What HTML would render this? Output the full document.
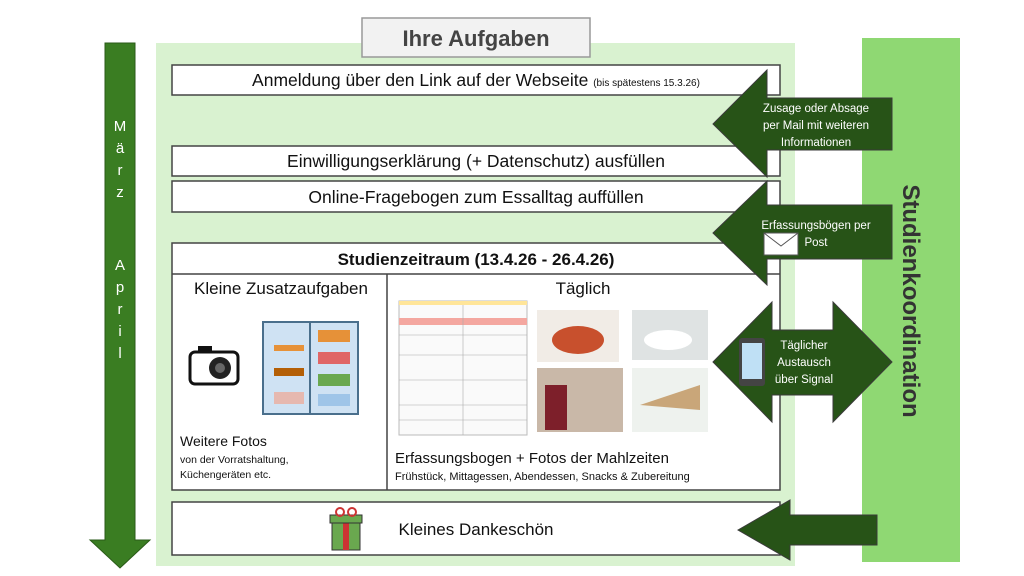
<!DOCTYPE html>
<html><head><meta charset="utf-8"><style>
html,body{margin:0;padding:0;background:#fff;}
svg{display:block;font-family:"Liberation Sans",sans-serif;}
</style></head><body>
<svg width="1024" height="576" viewBox="0 0 1024 576" xmlns="http://www.w3.org/2000/svg">
<rect x="156" y="43" width="639" height="523" fill="#d9f2d0"/>
<rect x="862" y="38" width="98" height="524" fill="#8fd873"/>
<text transform="translate(911,301) rotate(90)" text-anchor="middle" font-size="24" font-weight="bold" fill="#333" dy="8">Studienkoordination</text>
<path d="M105 43 H135 V540 H150 L120 568 L90 540 H105 Z" fill="#3a7d22" stroke="#2a5a18" stroke-width="1"/>
<g fill="#fff" font-size="15" text-anchor="middle">
<text x="120" y="131">M</text><text x="120" y="153">ä</text><text x="120" y="175">r</text><text x="120" y="197">z</text>
<text x="120" y="270">A</text><text x="120" y="292">p</text><text x="120" y="314">r</text><text x="120" y="336">i</text><text x="120" y="358">l</text>
</g>
<rect x="362" y="18" width="228" height="39" fill="#f2f2f2" stroke="#999" stroke-width="1.5"/>
<text x="476" y="46" text-anchor="middle" font-size="22" font-weight="bold" fill="#444">Ihre Aufgaben</text>
<g fill="#fff" stroke="#444" stroke-width="1.5">
<rect x="172" y="65" width="608" height="30"/>
<rect x="172" y="146" width="608" height="30"/>
<rect x="172" y="181" width="608" height="31"/>
<rect x="172" y="243" width="608" height="247"/>
<rect x="172" y="502" width="608" height="53"/>
</g>
<line x1="172" y1="274" x2="780" y2="274" stroke="#444" stroke-width="1.5"/>
<line x1="387" y1="274" x2="387" y2="490" stroke="#444" stroke-width="1.5"/>
<g fill="#111" text-anchor="middle" font-size="17">
<text x="476" y="86" font-size="17.5">Anmeldung über den Link auf der Webseite <tspan font-size="10">(bis spätestens 15.3.26)</tspan></text>
<text x="476" y="167" font-size="17.5">Einwilligungserklärung (+ Datenschutz) ausfüllen</text>
<text x="476" y="203" font-size="17.5">Online-Fragebogen zum Essalltag auffüllen</text>
<text x="476" y="265" font-weight="bold">Studienzeitraum (13.4.26 - 26.4.26)</text>
<text x="281" y="294">Kleine Zusatzaufgaben</text>
<text x="583" y="294">Täglich</text>
<text x="476" y="535">Kleines Dankeschön</text>
</g>
<g fill="#111" font-size="14">
<text x="180" y="446">Weitere Fotos</text>
<text x="180" y="463" font-size="10.5">von der Vorratshaltung,</text>
<text x="180" y="478" font-size="10.5">Küchengeräten etc.</text>
<text x="395" y="463" font-size="15">Erfassungsbogen + Fotos der Mahlzeiten</text>
<text x="395" y="480" font-size="11">Frühstück, Mittagessen, Abendessen, Snacks &amp; Zubereitung</text>
</g>
<rect x="190" y="352" width="48" height="32" rx="5" fill="#fff" stroke="#111" stroke-width="3"/>
<rect x="198" y="346" width="14" height="7" fill="#111"/>
<circle cx="220" cy="368" r="11" fill="#222"/><circle cx="220" cy="368" r="5" fill="#666"/>
<rect x="263" y="322" width="95" height="92" fill="#cfe2f3" stroke="#4a6f8c" stroke-width="2"/>
<line x1="310" y1="322" x2="310" y2="414" stroke="#4a6f8c" stroke-width="2"/>
<g fill="#e69138"><rect x="274" y="345" width="30" height="6"/><rect x="318" y="330" width="32" height="12"/><rect x="318" y="352" width="32" height="12" fill="#e06666"/><rect x="318" y="374" width="32" height="12" fill="#6aa84f"/><rect x="274" y="368" width="30" height="8" fill="#b45f06"/><rect x="274" y="392" width="30" height="12" fill="#e6b8af"/><rect x="318" y="394" width="32" height="12" fill="#9fc5e8"/></g>
<rect x="399" y="301" width="128" height="134" fill="#fafafa" stroke="#bbb"/>
<rect x="399" y="301" width="128" height="4" fill="#ffe599"/>
<rect x="399" y="318" width="128" height="7" fill="#f4a7a0"/>
<g stroke="#aaa" stroke-width="0.6"><line x1="399" y1="335" x2="527" y2="335"/><line x1="399" y1="355" x2="527" y2="355"/><line x1="399" y1="380" x2="527" y2="380"/><line x1="399" y1="405" x2="527" y2="405"/><line x1="399" y1="420" x2="527" y2="420"/><line x1="463" y1="305" x2="463" y2="435"/></g>
<rect x="537" y="310" width="82" height="52" fill="#f1ece6"/><ellipse cx="578" cy="340" rx="26" ry="14" fill="#c8502d"/>
<rect x="632" y="310" width="76" height="50" fill="#dfe3e3"/><ellipse cx="668" cy="340" rx="24" ry="10" fill="#fff"/>
<rect x="537" y="368" width="86" height="64" fill="#c9b8a8"/><rect x="545" y="385" width="22" height="45" fill="#7d1f2a"/>
<rect x="632" y="368" width="76" height="64" fill="#eef2ee"/><path d="M640 405 L700 385 L700 410 Z" fill="#c9a679"/>
<rect x="332" y="520" width="28" height="30" fill="#6aa84f" stroke="#333"/>
<rect x="343" y="520" width="6" height="30" fill="#cc3333"/>
<rect x="330" y="515" width="32" height="8" fill="#6aa84f" stroke="#333"/>
<circle cx="340" cy="512" r="4" fill="none" stroke="#cc3333" stroke-width="2"/><circle cx="352" cy="512" r="4" fill="none" stroke="#cc3333" stroke-width="2"/>
<g fill="#275317" stroke="#3a3a3a" stroke-width="1">
<path d="M713 124 L767 70 V98 H892 V150 H767 V177 Z"/>
<path d="M713 233 L767 181 V205 H892 V259 H767 V285 Z"/>
<path d="M713 362 L772 302 V330 H833 V302 L892 362 L833 422 V395 H772 V422 Z"/>
<path d="M738 530 L790 500 V515 H877 V545 H790 V560 Z"/>
</g>
<g fill="#fff" font-size="11.5" text-anchor="middle">
<text x="816" y="112">Zusage oder Absage</text>
<text x="816" y="129">per Mail mit weiteren</text>
<text x="816" y="146">Informationen</text>
<text x="816" y="229">Erfassungsbögen per</text>
<text x="816" y="246">Post</text>
<text x="804" y="349">Täglicher</text>
<text x="804" y="366">Austausch</text>
<text x="804" y="383">über Signal</text>
</g>
<rect x="764" y="233" width="34" height="22" fill="#fff" stroke="#555"/>
<path d="M764 233 L781 246 L798 233" fill="none" stroke="#555"/>
<rect x="739" y="338" width="26" height="48" rx="3" fill="#444"/>
<rect x="742" y="343" width="20" height="36" fill="#bfe0f5"/>
</svg>
</body></html>
